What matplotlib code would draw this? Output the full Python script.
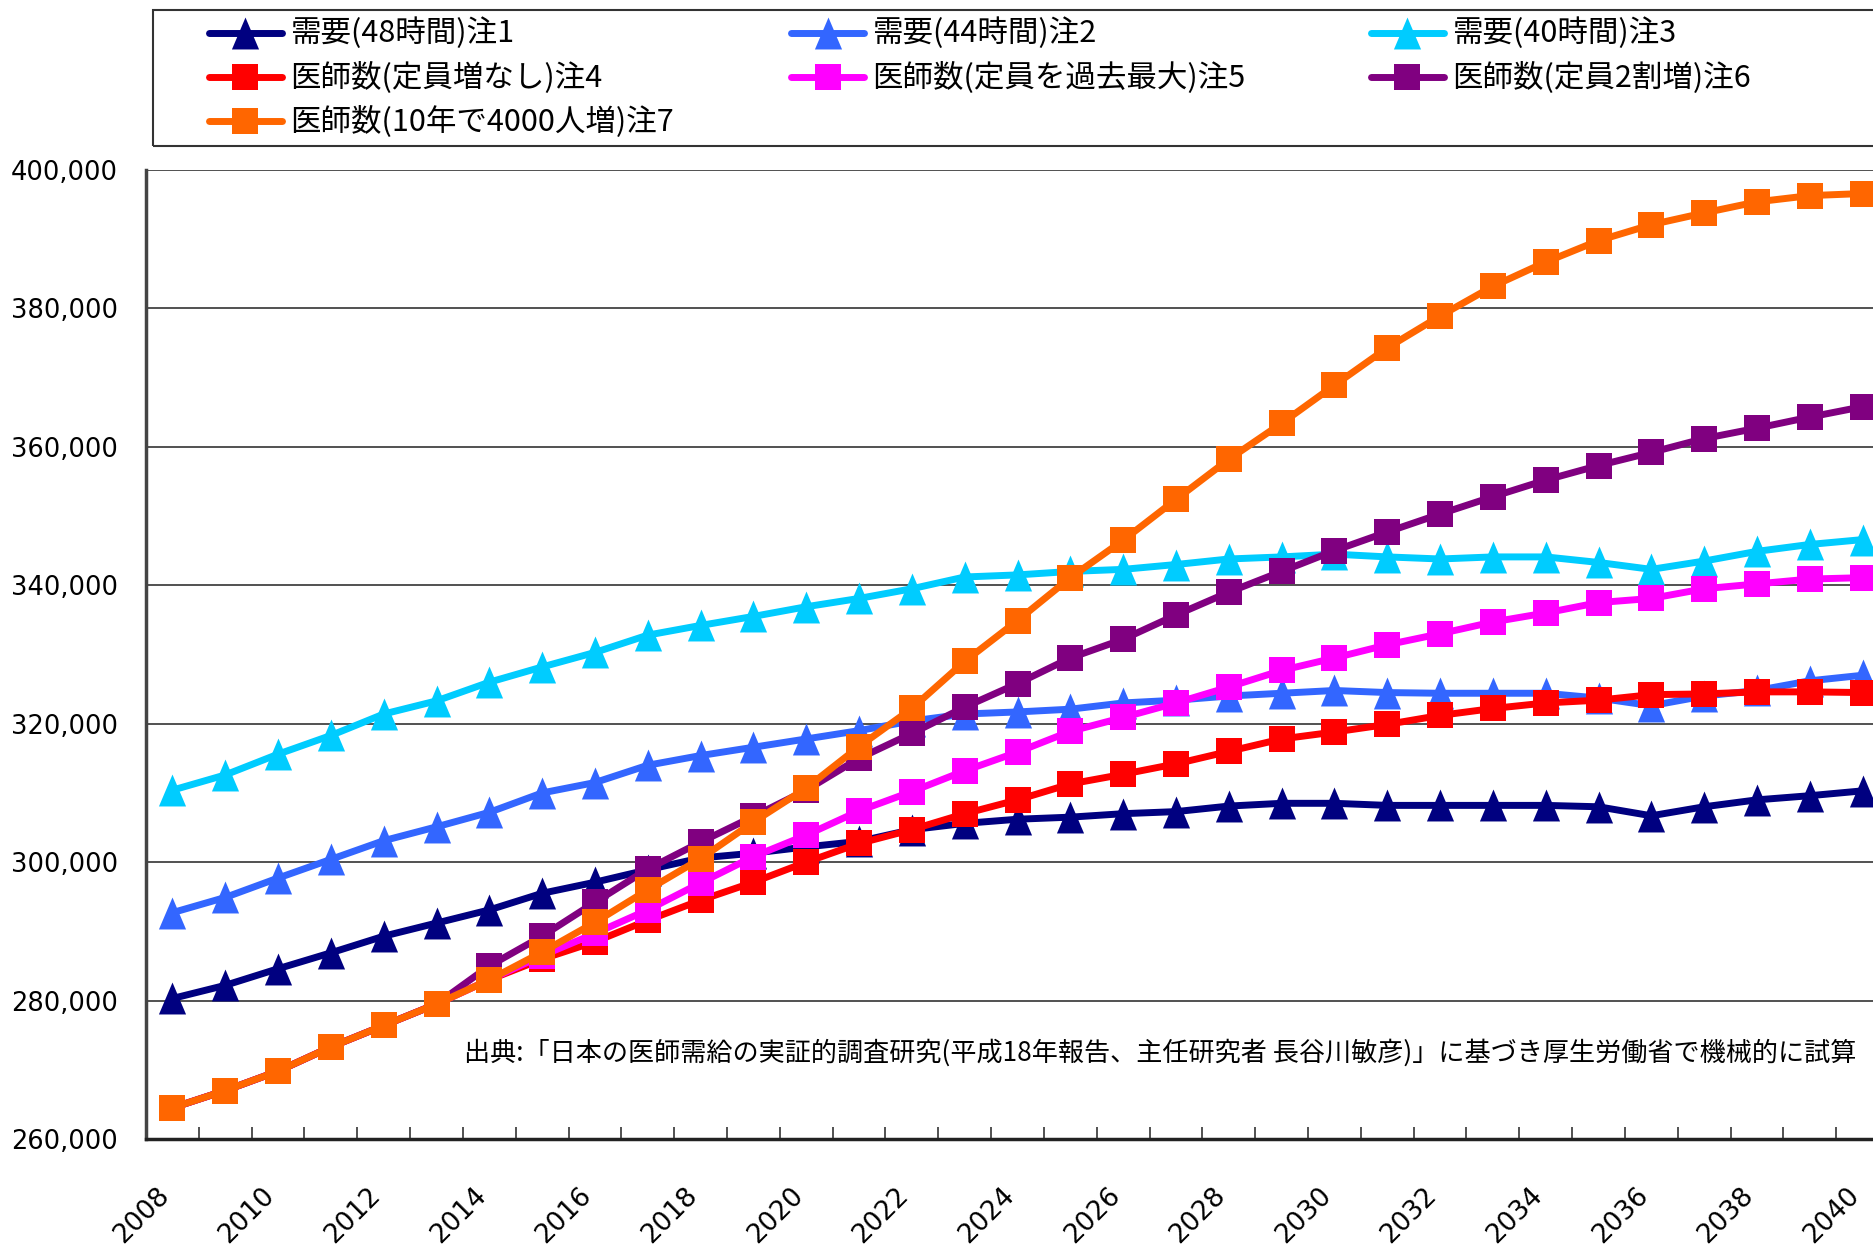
import matplotlib.pyplot as plt
import matplotlib.transforms as mtransforms
from matplotlib.lines import Line2D
from matplotlib.patches import Rectangle

# fonts: CJK for labels, plain sans for numbers
JP = ["Noto Sans CJK JP", "DejaVu Sans"]

years = list(range(2008, 2041))

demand_48 = [280300, 282200, 284600, 286900, 289300, 291200, 293100, 295500, 297100, 298900,
             300600, 301300, 302200, 303000, 304700, 305600, 306200, 306500, 307000, 307300,
             308100, 308500, 308500, 308200, 308200, 308200, 308200, 308000, 306700, 308000,
             309000, 309600, 310300]
demand_44 = [292700, 294900, 297700, 300400, 303100, 305100, 307200, 310000, 311500, 314000,
             315400, 316600, 317800, 319000, 320400, 321400, 321700, 322100, 323000, 323400,
             324000, 324400, 324800, 324500, 324400, 324400, 324400, 323700, 322600, 324000,
             324800, 326200, 327000]
demand_40 = [310400, 312600, 315600, 318300, 321400, 323300, 326000, 328200, 330300, 332800,
             334200, 335500, 336900, 338100, 339500, 341200, 341500, 342000, 342300, 343000,
             343800, 344100, 344500, 344100, 343800, 344100, 344100, 343300, 342300, 343500,
             344900, 345900, 346600]
doctors_flat = [264500, 267000, 269800, 273300, 276400, 279500, 283000, 286000, 288500, 291600,
                294500, 297100, 300000, 302700, 304700, 307000, 309000, 311300, 312700, 314200,
                316000, 317800, 318800, 319900, 321200, 322200, 323000, 323400, 324200, 324300,
                324600, 324600, 324500]
doctors_max = [264500, 267000, 269800, 273300, 276400, 279500, 283000, 286500, 289700, 293100,
               297000, 300800, 303900, 307400, 310200, 313200, 315900, 318900, 320900, 323000,
               325300, 327700, 329500, 331400, 333000, 334700, 336000, 337500, 338100, 339500,
               340200, 340900, 341100]
doctors_20pct = [264500, 267000, 269800, 273300, 276400, 279500, 285000, 289300, 294200, 299000,
                 302900, 306600, 310400, 315000, 318600, 322400, 325800, 329500, 332200, 335700,
                 339000, 342000, 345000, 347700, 350300, 352800, 355200, 357300, 359200, 361200,
                 362700, 364300, 365800]
doctors_4000 = [264500, 267000, 269800, 273300, 276400, 279500, 283000, 287000, 291300, 296000,
                300500, 305800, 310700, 316700, 322200, 329000, 334900, 341100, 346500, 352400,
                358200, 363400, 368900, 374300, 378900, 383200, 386700, 389800, 392100, 393800,
                395400, 396300, 396600]

labels = ["需要(48時間)注1", "需要(44時間)注2", "需要(40時間)注3",
          "医師数(定員増なし)注4", "医師数(定員を過去最大)注5", "医師数(定員2割増)注6",
          "医師数(10年で4000人増)注7"]
colors = ["#000080", "#3366FF", "#00CCFF", "#FF0000", "#FF00FF", "#800080", "#FF6600"]
series = [demand_48, demand_44, demand_40, doctors_flat, doctors_max, doctors_20pct, doctors_4000]

y_ticks = list(range(260000, 400001, 20000))

W, H = 1874, 1245
fig = plt.figure(figsize=(W / 100, H / 100), dpi=100)
ax = fig.add_axes([146 / W, 106 / H, 1743 / W, 969 / H])

tri = [(-0.85, -1), (0.85, -1), (0, 1)]
markers = [tri, tri, tri, "s", "s", "s", "s"]
msizes = [23, 23, 23, 19, 19, 19, 19]

for vals, lab, col, mk, ms in zip(series, labels, colors, markers, msizes):
    ax.plot(years, vals, color=col, lw=5, marker=mk, markersize=ms,
            markeredgewidth=0, label=lab, solid_joinstyle="miter")

ax.set_xlim(2007.5, 2040.5)
ax.set_ylim(260000, 400000)
ax.set_yticks(y_ticks)
ax.set_yticklabels([f"{v:,}" for v in y_ticks], fontsize=18.5, family="DejaVu Sans")
ax.yaxis.grid(True, color="#333333", lw=1.2)
ax.set_axisbelow(True)

ax.set_xticks(years[::2])
ax.set_xticklabels([str(y) for y in years[::2]], rotation=45, rotation_mode="anchor",
                   ha="right", va="center", fontsize=19, family="DejaVu Sans")
ax.set_xticks([y + 0.5 for y in years[:-1]], minor=True)
ax.tick_params(axis="x", which="major", length=0, pad=38)
ax.tick_params(axis="x", which="minor", length=9, width=1.2, direction="in", color="#333333")
ax.tick_params(axis="y", length=0, pad=20)
shift = mtransforms.ScaledTranslation(-7 / 100, 0, fig.dpi_scale_trans)
for t in ax.get_xticklabels():
    t.set_transform(t.get_transform() + shift)

for side in ["top", "right"]:
    ax.spines[side].set_visible(False)
ax.spines["left"].set_color("#444444")
ax.spines["left"].set_linewidth(2.5)
ax.spines["bottom"].set_color("#222222")
ax.spines["bottom"].set_linewidth(2.5)

ax.text(1856 / W, 1 - 1053 / H, "出典:「日本の医師需給の実証的調査研究(平成18年報告、主任研究者 長谷川敏彦)」に基づき厚生労働省で機械的に試算",
        transform=fig.transFigure, ha="right", va="center", fontsize=18.8, family=JP)


def fx(px):
    return px / W


def fy(py):
    return 1 - py / H


# legend box across the top, three columns
fig.add_artist(Rectangle((fx(153), fy(146)), fx(1900) - fx(153), 136 / H,
                         transform=fig.transFigure, fill=False, lw=1.5, ec="#333333"))
col_x = [209, 791, 1371]
row_y = [33, 77, 121]
for i, (lab, col, mk, ms) in enumerate(zip(labels, colors, markers, msizes)):
    x0 = col_x[i % 3]
    yc = fy(row_y[i // 3])
    fig.add_artist(Line2D([fx(x0), fx(x0 + 73)], [yc, yc], transform=fig.transFigure,
                          color=col, lw=5, solid_capstyle="round"))
    fig.add_artist(Line2D([fx(x0 + 36.5)], [yc], transform=fig.transFigure, color=col,
                          marker=mk, markersize=ms, markeredgewidth=0, lw=0))
    fig.text(fx(x0 + 81), yc, lab, ha="left", va="center", fontsize=22, family=JP)

fig.savefig("out.png", dpi=100)
